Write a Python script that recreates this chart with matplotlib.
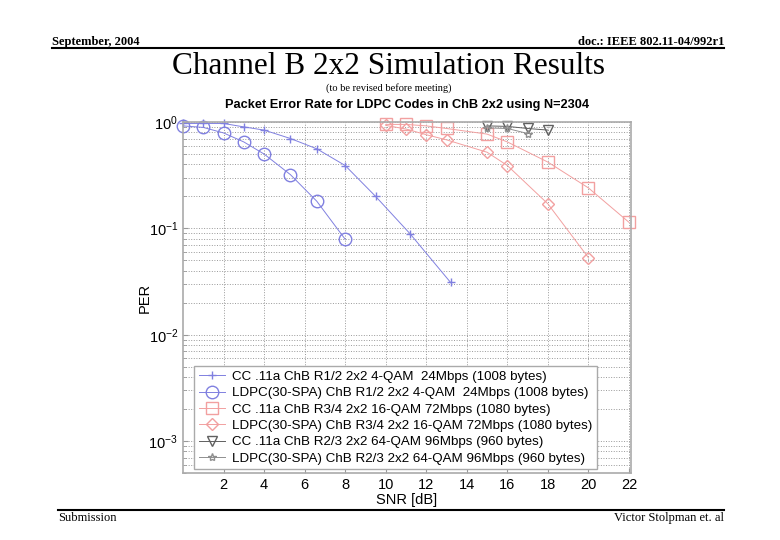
import matplotlib.pyplot as plt
from matplotlib.lines import Line2D
import numpy as np

# SNR [dB] / PER values
snr_cc_r12 = [0, 1, 2, 3, 4, 5.3, 6.6, 8, 9.5, 11.2, 13.2]
per_cc_r12 = [0.97, 0.97, 0.97, 0.90, 0.84, 0.70, 0.56, 0.39, 0.20, 0.089, 0.031]

snr_ldpc_r12 = [0, 1, 2, 3, 4, 5.3, 6.6, 8]
per_ldpc_r12 = [0.92, 0.89, 0.79, 0.65, 0.50, 0.32, 0.18, 0.079]

snr_cc_r34 = [10, 11, 12, 13, 15, 16, 18, 20, 22]
per_cc_r34 = [0.95, 0.95, 0.92, 0.87, 0.77, 0.65, 0.42, 0.24, 0.114]

snr_ldpc_r34 = [10, 11, 12, 13, 15, 16, 18, 20]
per_ldpc_r34 = [0.93, 0.86, 0.76, 0.68, 0.52, 0.39, 0.17, 0.053]

snr_cc_r23 = [15, 16, 17, 18]
per_cc_r23 = [0.92, 0.91, 0.87, 0.84]

snr_ldpc_r23 = [15, 16, 17]
per_ldpc_r23 = [0.88, 0.87, 0.78]

labels = [
    'CC .11a ChB R1/2 2x2 4-QAM  24Mbps (1008 bytes)',
    'LDPC(30-SPA) ChB R1/2 2x2 4-QAM  24Mbps (1008 bytes)',
    'CC .11a ChB R3/4 2x2 16-QAM 72Mbps (1080 bytes)',
    'LDPC(30-SPA) ChB R3/4 2x2 16-QAM 72Mbps (1080 bytes)',
    'CC .11a ChB R2/3 2x2 64-QAM 96Mbps (960 bytes)',
    'LDPC(30-SPA) ChB R2/3 2x2 64-QAM 96Mbps (960 bytes)',
]
xticks = [2, 4, 6, 8, 10, 12, 14, 16, 18, 20, 22]

blue = '#8080e0'
red = '#f2a0a0'
dark = '#606060'
grey = '#8f8f8f'

fig = plt.figure(figsize=(7.8, 5.4), dpi=100)
ax = fig.add_axes([0.2346, 0.124, 0.5744, 0.650])

kw = dict(lw=0.7, clip_on=False)
ax.semilogy(snr_cc_r12, per_cc_r12, '-+', color=blue, ms=6, label=labels[0], **kw)
ax.semilogy(snr_ldpc_r12, per_ldpc_r12, '-o', color=blue, ms=9, mfc='none', label=labels[1], **kw)
ax.semilogy(snr_cc_r34, per_cc_r34, '-s', color=red, ms=8, mfc='none', label=labels[2], **kw)
ax.semilogy(snr_ldpc_r34, per_ldpc_r34, '-D', color=red, ms=6, mfc='none', label=labels[3], **kw)
ax.semilogy(snr_cc_r23, per_cc_r23, '-v', color=dark, ms=7, mfc='none', label=labels[4], **kw)
ax.semilogy(snr_ldpc_r23, per_ldpc_r23, '-*', color=grey, ms=6, mfc='none', label=labels[5], **kw)

ax.set_xlim(0, 22.1)
ax.set_ylim(5e-4, 1)
ax.set_xticks(xticks)
ax.set_yticks([1e-3, 1e-2, 1e-1, 1])
ax.grid(True, which='major', axis='x', ls=':', color='#999999', lw=0.7)
ax.grid(True, which='both', axis='y', ls=':', color='#999999', lw=0.7)
ax.tick_params(which='both', direction='in', labelsize=10.5, color='#999999')
for t in ax.get_xticklabels() + ax.get_yticklabels():
    t.set_fontfamily('Liberation Sans')
for s in ax.spines.values():
    s.set_color('#aaaaaa')
    s.set_linewidth(1.2)

ax.set_xlabel('SNR [dB]', fontsize=10.5, family='Liberation Sans', labelpad=1)
ax.set_ylabel('PER', fontsize=10.5, family='Liberation Sans', labelpad=-2)
ax.set_title('Packet Error Rate for LDPC Codes in ChB 2x2 using N=2304',
             fontsize=9.2, fontweight='bold', family='Liberation Sans', pad=10)

leg = ax.legend(loc='lower left', bbox_to_anchor=(0.01, -0.008),
                prop={'family': 'Liberation Sans', 'size': 9.6},
                fancybox=False, framealpha=1, edgecolor='#aaaaaa',
                borderpad=0.35, labelspacing=0.3, handlelength=2.0, handletextpad=0.5)

# slide header / footer
fig.text(52 / 780, 1 - 42 / 540, 'September, 2004', family='Liberation Serif',
         fontweight='bold', fontsize=9, va='center', ha='left')
fig.text(724 / 780, 1 - 42 / 540, 'doc.: IEEE 802.11-04/992r1', family='Liberation Serif',
         fontweight='bold', fontsize=9, va='center', ha='right')
fig.add_artist(Line2D([52 / 780, 724 / 780], [1 - 48 / 540, 1 - 48 / 540], color='black', lw=1.5))
fig.text(389 / 780, 1 - 66 / 540, 'Channel B 2x2 Simulation Results', family='Liberation Serif',
         fontsize=22.5, va='center', ha='center')
fig.text(389 / 780, 1 - 88 / 540, '(to be revised before meeting)', family='Liberation Serif',
         fontsize=7.5, va='center', ha='center')
fig.add_artist(Line2D([58 / 780, 724 / 780], [1 - 510 / 540, 1 - 510 / 540], color='black', lw=1.5))
fig.text(58 / 780, 1 - 518 / 540, 'Submission', family='Liberation Serif',
         fontsize=9, va='center', ha='left')
fig.text(724 / 780, 1 - 518 / 540, 'Victor Stolpman et. al', family='Liberation Serif',
         fontsize=9, va='center', ha='right')

plt.savefig('out.png', dpi=100)
